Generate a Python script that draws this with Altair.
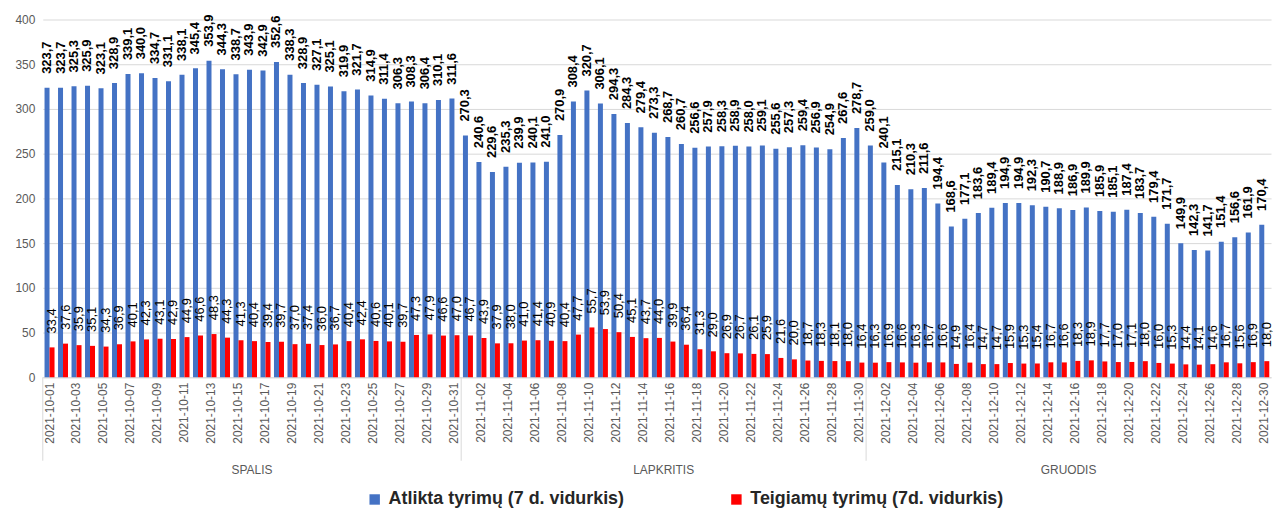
import altair as alt
import pandas as pd

dates = [d.strftime("%Y-%m-%d") for d in pd.date_range("2021-10-01", "2021-12-30")]

S_BLUE = "Atlikta tyrimų (7 d. vidurkis)"
S_RED = "Teigiamų tyrimų (7d. vidurkis)"

blue_oct = [323.7, 323.7, 325.3, 325.9, 323.1, 328.9, 339.1, 340.0, 334.7, 331.1, 338.1,
            345.4, 353.9, 344.3, 338.7, 343.9, 342.9, 352.6, 338.3, 328.9, 327.1, 325.1,
            319.9, 321.7, 314.9, 311.4, 306.3, 308.3, 306.4, 310.1, 311.6]
blue_nov = [270.3, 240.6, 229.6, 235.3, 239.9, 240.1, 241.0, 270.9, 308.4, 320.7, 306.1,
            294.3, 284.3, 279.4, 273.3, 268.7, 260.7, 256.6, 257.9, 258.3, 258.9, 258.0,
            259.1, 255.6, 257.3, 259.4, 256.9, 254.9, 267.6, 278.7]
blue_dec = [259.0, 240.1, 215.1, 210.3, 211.6, 194.4, 168.6, 177.1, 183.6, 189.4, 194.9,
            194.9, 192.3, 190.7, 188.9, 186.9, 189.9, 185.9, 185.1, 187.4, 183.7, 179.4,
            171.7, 149.9, 142.3, 141.7, 151.4, 156.6, 161.9, 170.4]

red_oct = [33.4, 37.6, 35.9, 35.1, 34.3, 36.9, 40.1, 42.3, 43.1, 42.9, 44.9, 46.6, 48.3,
           44.3, 41.3, 40.4, 39.4, 39.7, 37.0, 37.4, 36.0, 36.7, 40.4, 42.4, 40.6, 40.1,
           39.7, 47.3, 47.9, 46.6, 47.0]
red_nov = [46.7, 43.9, 37.9, 38.0, 41.0, 41.4, 40.9, 40.4, 47.7, 55.7, 53.9, 50.4, 45.1,
           43.7, 44.0, 39.9, 36.4, 31.3, 29.0, 26.9, 26.7, 26.1, 25.9, 21.6, 20.0, 18.7,
           18.3, 18.1, 18.0, 16.4]
red_dec = [16.3, 16.9, 16.6, 16.3, 16.7, 16.6, 14.9, 16.4, 14.7, 14.7, 15.9, 15.3, 15.4,
           16.7, 16.6, 18.3, 18.9, 17.7, 17.0, 17.1, 18.0, 16.0, 15.3, 14.4, 14.1, 14.6,
           16.7, 15.6, 16.9, 18.0]

month_names = ["SPALIS", "LAPKRITIS", "GRUODIS"]
month_starts = ["2021-10-01", "2021-11-01", "2021-12-01"]

blue = blue_oct + blue_nov + blue_dec
red = red_oct + red_nov + red_dec


def fmt(v):
    return f"{v:.1f}".replace(".", ",")


rows = []
for d, v in zip(dates, blue):
    rows.append({"date": d, "series": S_BLUE, "value": v, "label": fmt(v)})
for d, v in zip(dates, red):
    rows.append({"date": d, "series": S_RED, "value": v, "label": fmt(v)})
df = pd.DataFrame(rows)

sep_df = pd.DataFrame({"date": month_starts})
oct_df = pd.DataFrame({"date": ["2021-10-16"], "name": [month_names[0]]})
novdec_df = pd.DataFrame({"date": ["2021-11-16", "2021-12-16"], "name": month_names[1:]})

FONT = "Liberation Sans"
xscale = alt.Scale(domain=dates, paddingInner=0, paddingOuter=0)
xaxis = alt.Axis(values=dates[::2], labelAngle=270, labelAlign="right", labelBaseline="middle",
                 labelFontSize=12, labelColor="#595959", labelPadding=5, ticks=False,
                 domainColor="#D9D9D9", grid=False, title=None, labelOverlap=False)


def xenc(bp=None):
    if bp is None:
        return alt.X("date:O", scale=xscale, axis=xaxis)
    return alt.X("date:O", scale=xscale, axis=xaxis, bandPosition=bp)


yenc = alt.Y("value:Q", scale=alt.Scale(domain=[0, 400], nice=False),
             axis=alt.Axis(values=list(range(0, 401, 50)), grid=True, gridColor="#D9D9D9",
                           domain=False, ticks=False, labelFontSize=12, labelColor="#595959",
                           labelPadding=8, title=None))

xoff = alt.XOffset("series:N", scale=alt.Scale(domain=[S_BLUE, S_RED], paddingInner=0,
                                                 paddingOuter=0.35))

bars = alt.Chart(df).mark_bar().encode(
    x=xenc(),
    xOffset=xoff,
    y=yenc,
    color=alt.Color("series:N", scale=alt.Scale(domain=[S_BLUE, S_RED],
                                                range=["#4472C4", "#FF0000"]),
                    legend=alt.Legend(title=None, orient="none", legendX=325, legendY=474,
                                      direction="horizontal", symbolType="square",
                                      symbolSize=110, symbolStrokeWidth=0,
                                      labelFontSize=18, labelFontWeight="bold",
                                      labelColor="#262626", labelLimit=0,
                                      columnPadding=103, padding=0, labelOffset=5)),
)

blue_lbl = alt.Chart(df).transform_filter(
    alt.FieldEqualPredicate(field="series", equal=S_BLUE)
).mark_text(angle=270, align="left", baseline="middle", dx=14, fontSize=13,
            fontWeight="bold", color="black").encode(
    x=xenc(), xOffset=xoff, y=yenc, text="label:N")

red_lbl = alt.Chart(df).transform_filter(
    alt.FieldEqualPredicate(field="series", equal=S_RED)
).mark_text(angle=270, align="left", baseline="middle", dx=14, fontSize=13,
            color="black").encode(
    x=xenc(), xOffset=xoff, y=yenc, text="label:N")

seps = alt.Chart(sep_df).mark_rule(color="#D9D9D9", strokeWidth=1).encode(
    x=xenc(0), y=alt.value(360), y2=alt.value(444))

oct_txt = alt.Chart(oct_df).mark_text(fontSize=12, color="#595959", baseline="middle").encode(
    x=xenc(0.5), y=alt.value(453), text="name:N")
novdec_txt = alt.Chart(novdec_df).mark_text(fontSize=12, color="#595959",
                                            baseline="middle").encode(
    x=xenc(0), y=alt.value(453), text="name:N")

chart = alt.layer(bars, blue_lbl, red_lbl, seps, oct_txt, novdec_txt).properties(
    width=1236, height=360,
    padding={"left": 35, "top": 10, "right": 4, "bottom": 132},
    autosize=alt.AutoSizeParams(type="none"),
).configure(font=FONT).configure_view(stroke=None)

chart.save("out.html", embed_options={"renderer": "svg", "actions": False})
